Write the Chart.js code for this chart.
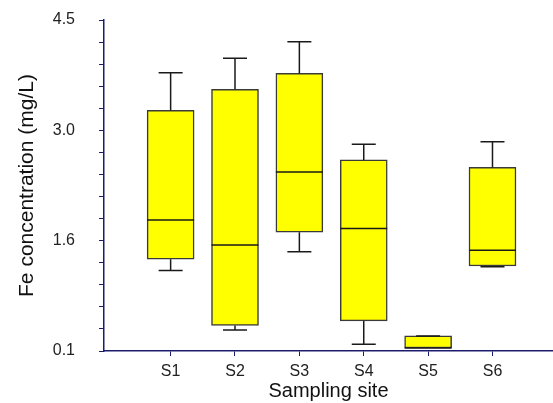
<!DOCTYPE html>
<html>
<head>
<meta charset="utf-8">
<script src="https://cdn.jsdelivr.net/npm/chart.js@4.4.1/dist/chart.umd.min.js"></script>
<style>
  body { margin: 0; background: #fff; }
  #wrap { width: 553px; height: 403px; }
</style>
</head>
<body>
<div id="wrap"><canvas id="chart1" width="553" height="403"></canvas></div>
<script>
// sampling sites and box plot stats (mg/L)
const sites = ["S1", "S2", "S3", "S4", "S5", "S6"];
const whiskerLow = [1.17, 0.38, 1.42, 0.19, 0.14, 1.22];
const q1 = [1.32, 0.44, 1.68, 0.50, 0.14, 1.23];
const median = [1.84, 1.51, 2.48, 1.73, 0.14, 1.44];
const q3 = [3.30, 3.58, 3.79, 2.64, 0.30, 2.54];
const whiskerHigh = [3.80, 3.99, 4.21, 2.85, 0.30, 2.88];
const yTickLabels = ["0.1", "1.6", "3.0", "4.5"];
const yMin = 0.1, yMax = 4.5, minorPerMajor = 5;

const axisColor = "#1c1c6e";

// whiskers + median lines, drawn through the chart scales
const boxExtras = {
    id: "boxExtras",
    afterDatasetsDraw(chart) {
        let ctx = chart.ctx;
        let xs = chart.scales.x, ys = chart.scales.y;
        let boxW = 47, capW = 24;
        ctx.save();
        ctx.strokeStyle = "#1a1a1a";
        ctx.lineWidth = 1.5;
        sites.forEach((s, i) => {
            let x = xs.getPixelForValue(i + 1);
            ctx.beginPath();
            // upper whisker
            ctx.moveTo(x, ys.getPixelForValue(q3[i]));
            ctx.lineTo(x, ys.getPixelForValue(whiskerHigh[i]));
            ctx.moveTo(x - capW / 2, ys.getPixelForValue(whiskerHigh[i]));
            ctx.lineTo(x + capW / 2, ys.getPixelForValue(whiskerHigh[i]));
            // lower whisker
            ctx.moveTo(x, ys.getPixelForValue(q1[i]));
            ctx.lineTo(x, ys.getPixelForValue(whiskerLow[i]));
            ctx.moveTo(x - capW / 2, ys.getPixelForValue(whiskerLow[i]));
            ctx.lineTo(x + capW / 2, ys.getPixelForValue(whiskerLow[i]));
            // median
            ctx.moveTo(x - boxW / 2, ys.getPixelForValue(median[i]));
            ctx.lineTo(x + boxW / 2, ys.getPixelForValue(median[i]));
            ctx.stroke();
        });
        ctx.restore();
    }
};

let ctx1 = document.getElementById("chart1").getContext("2d");
new Chart(ctx1, {
    type: "bar",
    data: {
        datasets: [{
            data: sites.map((s, i) => ({ x: i + 1, y: [q1[i], q3[i]] })),
            backgroundColor: "#ffff00",
            borderColor: "#3a3a3a",
            borderWidth: 1.5,
            borderSkipped: false,
            barThickness: 47
        }]
    },
    options: {
        responsive: false,
        animation: false,
        layout: { padding: { top: 20, right: 0, left: 0, bottom: 0 } },
        plugins: { legend: { display: false }, tooltip: { enabled: false } },
        scales: {
            x: {
                type: "linear",
                offset: false,
                min: -0.035,
                max: 6.94,
                afterBuildTicks: (scale) => {
                    scale.ticks = sites.map((s, i) => ({ value: i + 1 }));
                },
                afterFit: (scale) => { scale.height = 52; },
                ticks: {
                    callback: (v) => sites[v - 1] || "",
                    color: "#222",
                    font: { family: "Liberation Sans", size: 16 },
                    padding: 6,
                    maxRotation: 0
                },
                grid: { display: true, offset: false, drawOnChartArea: false, drawTicks: true, tickLength: 5, color: axisColor },
                border: { display: true, color: axisColor, width: 1.5 },
                title: {
                    display: true,
                    text: "Sampling site",
                    color: "#111",
                    font: { family: "Liberation Sans", size: 20 },
                    padding: { top: 0, bottom: 0 }
                }
            },
            y: {
                min: yMin,
                max: yMax,
                afterBuildTicks: (scale) => {
                    let n = (yTickLabels.length - 1) * minorPerMajor;
                    let t = [];
                    for (let k = 0; k <= n; k++) t.push({ value: yMin + (yMax - yMin) * k / n });
                    scale.ticks = t;
                },
                afterFit: (scale) => {
                    scale.width = 104;
                    // the big label padding should not push the plot area down
                    scale.paddingTop = 10;
                    scale.paddingBottom = 10;
                },
                ticks: {
                    autoSkip: false,
                    callback: (v, i) => (i % minorPerMajor === 0 ? yTickLabels[i / minorPerMajor] : ""),
                    color: "#222",
                    font: { family: "Liberation Sans", size: 16 },
                    padding: 24
                },
                grid: { display: true, drawOnChartArea: false, drawTicks: true, tickLength: 5, color: axisColor },
                border: { display: true, color: axisColor, width: 1.5 },
                title: {
                    display: true,
                    text: "Fe concentration (mg/L)",
                    color: "#111",
                    font: { family: "Liberation Sans", size: 21 },
                    padding: { top: 15, bottom: 0 }
                }
            }
        }
    },
    plugins: [boxExtras]
});
</script>
</body>
</html>
